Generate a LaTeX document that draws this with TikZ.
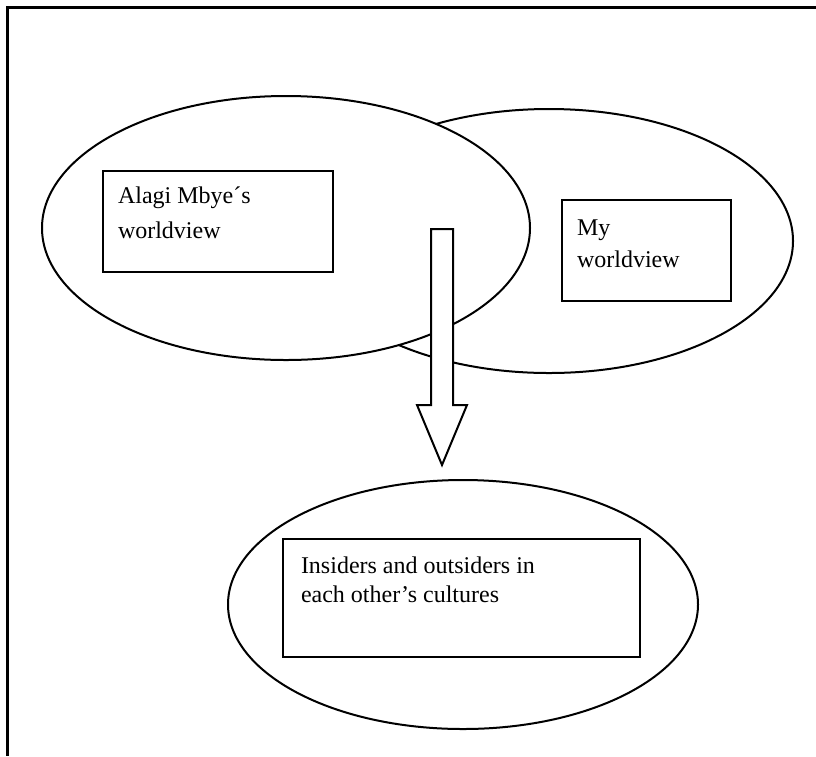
\documentclass[tikz,border=0pt]{standalone}
\usepackage{fontspec}
\setmainfont{Liberation Serif}
\usetikzlibrary{shapes.geometric}
\begin{document}
\begin{tikzpicture}[x=1pt,y=-1pt,
  bubble/.style={ellipse, draw, fill=white, line width=2pt, inner sep=0pt, outer sep=0pt},
  tbox/.style={rectangle, draw, fill=white, line width=2.3pt, inner sep=0pt, outer sep=0pt, anchor=north west},
  lbl/.style={anchor=base west, inner sep=0pt, outer sep=0pt, font=\fontsize{24}{30}\selectfont},
  blockarrow/.style={draw, fill=white, line width=2pt, line join=miter}]
\useasboundingbox (0,0) rectangle (816,756);
% frame (only top and left edges fall inside the page)
\coordinate (fr1) at (816,7.5);
\coordinate (fr2) at (7,7.5);
\coordinate (fr3) at (7,756);
\draw[line width=3pt] (fr1) -- (fr2) -- (fr3);
% worldview ellipses
\node[bubble, minimum width=488pt, minimum height=264pt] (mine) at (549,241) {};
\node[bubble, minimum width=488pt, minimum height=264pt] (alagi) at (286,228) {};
\node[tbox, minimum width=230pt, minimum height=101pt] (alagibox) at (103,171) {};
\node[tbox, minimum width=169pt, minimum height=101pt] (minebox) at (562,200) {};
% block arrow
\coordinate (a1) at (431,229);
\coordinate (a2) at (453,229);
\coordinate (a3) at (453,405);
\coordinate (a4) at (467,405);
\coordinate (tip) at (442,465);
\coordinate (a6) at (417,405);
\coordinate (a7) at (431,405);
\draw[blockarrow] (a1) -- (a2) -- (a3) -- (a4) -- (tip) -- (a6) -- (a7) -- cycle;
% result ellipse
\node[bubble, minimum width=470pt, minimum height=249pt] (both) at (463,604.5) {};
\node[tbox, minimum width=357pt, minimum height=118pt] (bothbox) at (283,539) {};
% texts
\node[lbl] (t1) at (118,203) {Alagi Mbye´s};
\node[lbl] (t2) at (118,238) {worldview};
\node[lbl] (t3) at (577,235) {My};
\node[lbl] (t4) at (577,267) {worldview};
\node[lbl] (t5) at (301,573) {Insiders and outsiders in};
\node[lbl] (t6) at (301,602) {each other’s cultures};
\end{tikzpicture}
\end{document}
